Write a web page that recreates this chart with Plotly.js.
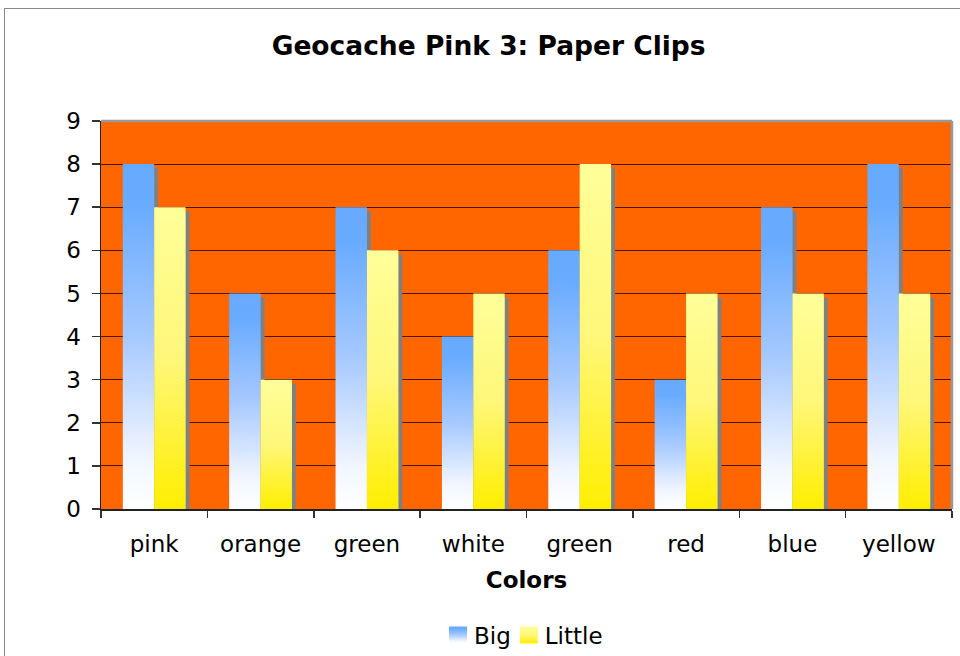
<!DOCTYPE html>
<html>
<head>
<meta charset="utf-8">
<script src="https://cdn.plot.ly/plotly-3.0.1.min.js"></script>
<style>
  html, body { margin: 0; padding: 0; background: #ffffff; width: 960px; height: 656px; overflow: hidden; }
  #frame { position: absolute; left: 4px; top: 8px; width: 1000px; height: 700px; border: 1px solid #888888; background: #ffffff; }
  #chart { position: absolute; left: 0; top: 0; width: 960px; height: 656px; }
</style>
</head>
<body>
<div id="frame"></div>
<div id="chart"></div>
<script>
const categories = ["pink", "orange", "green", "white", "green", "red", "blue", "yellow"];
const bigValues = [8, 5, 7, 4, 6, 3, 7, 8];
const littleValues = [7, 3, 6, 5, 8, 5, 5, 5];
const seriesNames = ["Big", "Little"];
const yTickValues = [0, 1, 2, 3, 4, 5, 6, 7, 8, 9];

const positions = categories.map((c, i) => i);
const FONT = "DejaVu Sans, Verdana, sans-serif";
const FS = 23;

const traces = [
  {
    type: "bar", name: seriesNames[0], x: positions, y: bigValues,
    marker: { color: "#66aaff", line: { width: 0 } }, hoverinfo: "none"
  },
  {
    type: "bar", name: seriesNames[1], x: positions, y: littleValues,
    marker: { color: "#ffff66", line: { width: 0 } }, hoverinfo: "none"
  }
];

const layout = {
  width: 960, height: 656,
  margin: { l: 101, r: 8, t: 121, b: 147, autoexpand: false },
  paper_bgcolor: "rgba(0,0,0,0)",
  plot_bgcolor: "#ff6600",
  barmode: "group", bargap: 0.41, bargroupgap: 0,
  title: {
    text: "<b>Geocache Pink 3: Paper Clips</b>",
    font: { family: FONT, size: 26.5, color: "#000000" },
    x: 0.509, xanchor: "center", y: 0.93, yanchor: "middle"
  },
  font: { family: FONT, size: FS, color: "#000000" },
  xaxis: {
    range: [-0.5, 7.5], tickmode: "array", tickvals: positions, ticktext: categories,
    ticks: "outside", ticklen: 14, tickcolor: "rgba(0,0,0,0)",
    tickfont: { family: FONT, size: FS, color: "#000000" },
    minor: { tick0: 0.5, dtick: 1, ticks: "outside", ticklen: 7, tickcolor: "#333333", tickwidth: 1.5, showgrid: false },
    showline: true, linecolor: "#222222", linewidth: 1.5,
    showgrid: false, zeroline: false, automargin: false,
    title: { text: "<b>Colors</b>", font: { family: FONT, size: FS, color: "#000000" }, standoff: 16 }
  },
  yaxis: {
    range: [0, 9], tickmode: "array", tickvals: yTickValues,
    ticks: "outside", ticklen: 8, tickcolor: "#333333", tickwidth: 1.5,
    ticklabelstandoff: 6,
    tickfont: { family: FONT, size: FS, color: "#000000" },
    showline: true, linecolor: "#222222", linewidth: 1.5,
    showgrid: true, gridcolor: "#4a1800", gridwidth: 1.2,
    zeroline: false, automargin: false
  },
  showlegend: true,
  legend: {
    orientation: "h", x: 0.5, xanchor: "center",
    yref: "container", y: 21 / 656, yanchor: "middle",
    font: { family: FONT, size: FS, color: "#000000" },
    itemwidth: 30, bgcolor: "rgba(0,0,0,0)", traceorder: "normal"
  },
  shapes: [
    { type: "line", xref: "paper", yref: "paper", x0: 0, x1: 1, y0: 1, y1: 1, line: { color: "#999999", width: 2.5 }, layer: "above" },
    { type: "line", xref: "paper", yref: "paper", x0: 1, x1: 1, y0: 0, y1: 1, line: { color: "#999999", width: 2.5 }, layer: "above" }
  ]
};

function decorate(gd) {
  const svgNS = "http://www.w3.org/2000/svg";
  const svg = gd.querySelector("svg.main-svg");
  let defs = svg.querySelector("defs");
  if (!defs) { defs = document.createElementNS(svgNS, "defs"); svg.insertBefore(defs, svg.firstChild); }
  function grad(id, stops) {
    const g = document.createElementNS(svgNS, "linearGradient");
    g.setAttribute("id", id);
    g.setAttribute("x1", "0"); g.setAttribute("y1", "0");
    g.setAttribute("x2", "0"); g.setAttribute("y2", "1");
    stops.forEach(s => {
      const st = document.createElementNS(svgNS, "stop");
      st.setAttribute("offset", s[0]);
      st.setAttribute("stop-color", s[1]);
      g.appendChild(st);
    });
    defs.appendChild(g);
  }
  grad("gradBig", [["0", "#66aaff"], ["0.12", "#69abff"], ["0.5", "#a6c9ff"], ["0.85", "#f0f5ff"], ["1", "#ffffff"]]);
  grad("gradLittle", [["0", "#ffff99"], ["0.5", "#fff77a"], ["1", "#ffee00"]]);
  const f = document.createElementNS(svgNS, "filter");
  f.setAttribute("id", "barShadow");
  f.setAttribute("x", "-20%"); f.setAttribute("y", "-10%");
  f.setAttribute("width", "160%"); f.setAttribute("height", "130%");
  f.innerHTML =
    '<feFlood flood-color="#808080" result="fl"/>' +
    '<feComposite in="fl" in2="SourceAlpha" operator="in" result="sh"/>' +
    '<feOffset in="sh" dx="4" dy="4" result="off"/>' +
    '<feMerge><feMergeNode in="off"/><feMergeNode in="SourceGraphic"/></feMerge>';
  defs.appendChild(f);

  const ids = ["gradBig", "gradLittle"];
  const barTraces = gd.querySelectorAll(".barlayer .trace");
  barTraces.forEach((t, i) => {
    t.querySelectorAll("path").forEach(p => {
      p.style.fill = "url(#" + ids[i] + ")";
      p.style.stroke = "none";
      p.setAttribute("filter", "url(#barShadow)");
    });
  });
  const shifts = [4, -7];
  const legendTraces = gd.querySelectorAll(".legend .traces");
  legendTraces.forEach((t, i) => {
    t.querySelectorAll(".legendpoints path").forEach(p => {
      p.setAttribute("d", "M9,8.5H-9V-8.5H9Z");
      p.style.fill = "url(#" + ids[i] + ")";
      p.style.stroke = "none";
    });
    const txt = t.querySelector("text.legendtext");
    if (txt) {
      const x = parseFloat(txt.getAttribute("x") || "0");
      txt.setAttribute("x", x - 4);
    }
    const tr = t.getAttribute("transform") || "";
    const m = tr.match(/translate\(\s*([-\d.]+)[ ,]+([-\d.]+)\s*\)/);
    if (m) {
      t.setAttribute("transform", "translate(" + (parseFloat(m[1]) + shifts[i]) + "," + m[2] + ")");
    }
  });
}

Plotly.newPlot("chart", traces, layout, { staticPlot: true, displayModeBar: false }).then(decorate);
</script>
</body>
</html>
